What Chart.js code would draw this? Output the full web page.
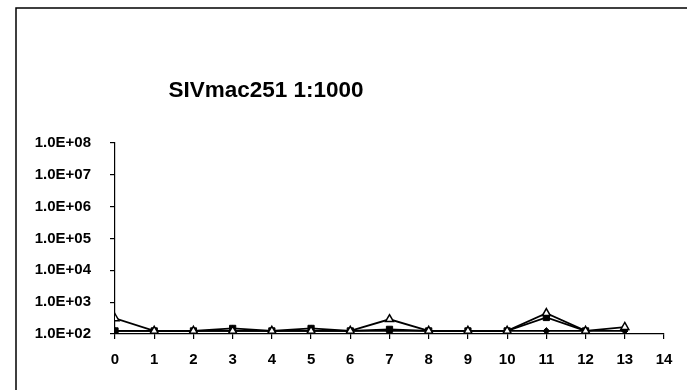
<!DOCTYPE html>
<html>
<head>
<meta charset="utf-8">
<script src="https://cdn.jsdelivr.net/npm/chart.js@4/dist/chart.umd.min.js"></script>
<style>
  html, body { margin: 0; padding: 0; background: #ffffff; }
  #wrap { width: 687px; height: 390px; }
</style>
</head>
<body>
<div id="wrap"><canvas id="chart" width="687" height="390"></canvas></div>
<script>
// Chart title
const titleText = 'SIVmac251 1:1000';

// Days on the x axis
const days = [0, 1, 2, 3, 4, 5, 6, 7, 8, 9, 10, 11, 12, 13];

// Series values (copies/ml)
const triangleValues = [310, 125, 125, 125, 125, 125, 125, 290, 125, 125, 125, 450, 125, 165];
const squareValues   = [125, 125, 125, 150, 125, 150, 125, 140, 125, 125, 125, 330, 125];
const diamondValues  = [125, 125, 125, 125, 125, 125, 125, 125, 125, 125, 125, 125, 125, 125];

// Axis ticks
const xTickValues = [0, 1, 2, 3, 4, 5, 6, 7, 8, 9, 10, 11, 12, 13, 14];
const yTickValues = [1e2, 1e3, 1e4, 1e5, 1e6, 1e7, 1e8];

const FONT = '"Liberation Sans", Arial, sans-serif';

function toPoints(values) {
  return values.map((v, i) => ({ x: days[i], y: v }));
}

function sci(v) {
  const exp = Math.round(Math.log10(v));
  const mant = v / Math.pow(10, exp);
  return mant.toFixed(1) + 'E+' + String(exp).padStart(2, '0');
}

// Outer frame and title, drawn on the canvas
const framePlugin = {
  id: 'frame',
  beforeDraw(chart) {
    const ctx = chart.ctx;
    ctx.save();
    ctx.fillStyle = '#ffffff';
    ctx.fillRect(0, 0, chart.width, chart.height);
    ctx.strokeStyle = '#000000';
    ctx.lineWidth = 1.5;
    ctx.beginPath();
    ctx.moveTo(16, chart.height);
    ctx.lineTo(16, 8);
    ctx.lineTo(chart.width, 8);
    ctx.stroke();
    ctx.restore();
  },
  afterDraw(chart) {
    const ctx = chart.ctx;
    ctx.save();
    ctx.fillStyle = '#000000';
    ctx.font = 'bold 22.5px ' + FONT;
    ctx.textAlign = 'center';
    ctx.textBaseline = 'alphabetic';
    ctx.fillText(titleText, 266, 96.5);
    ctx.restore();
  }
};

const baseLine = { borderColor: '#000000', borderWidth: 1.8, tension: 0, fill: false };

new Chart(document.getElementById('chart'), {
  type: 'line',
  data: {
    datasets: [
      Object.assign({}, baseLine, {
        label: 'triangle',
        data: toPoints(triangleValues),
        pointStyle: 'triangle',
        pointRadius: 4.6,
        pointBackgroundColor: '#ffffff',
        pointBorderColor: '#000000',
        pointBorderWidth: 1.5
      }),
      Object.assign({}, baseLine, {
        label: 'square',
        data: toPoints(squareValues),
        pointStyle: 'rect',
        pointRadius: 4.4,
        pointBackgroundColor: '#000000',
        pointBorderColor: '#000000',
        pointBorderWidth: 1
      }),
      Object.assign({}, baseLine, {
        label: 'diamond',
        data: toPoints(diamondValues),
        pointStyle: 'rectRot',
        pointRadius: 3.3,
        pointBackgroundColor: '#000000',
        pointBorderColor: '#000000',
        pointBorderWidth: 1
      })
    ]
  },
  options: {
    responsive: false,
    animation: false,
    devicePixelRatio: 1,
    layout: { padding: { left: 0, top: 143, right: 23, bottom: 0 } },
    plugins: {
      legend: { display: false },
      title: { display: false },
      tooltip: { enabled: false }
    },
    scales: {
      x: {
        type: 'linear',
        min: 0,
        max: 14,
        afterBuildTicks(scale) { scale.ticks = xTickValues.map(v => ({ value: v })); },
        afterFit(scale) { scale.height = 56; },
        grid: { drawOnChartArea: false, drawTicks: true, tickLength: 5, color: '#000000', lineWidth: 1.2 },
        border: { display: true, color: '#000000', width: 1.2 },
        ticks: {
          color: '#000000',
          font: { family: FONT, size: 15, weight: 'bold' },
          padding: 12,
          maxRotation: 0,
          autoSkip: false
        }
      },
      y: {
        type: 'logarithmic',
        min: 1e2,
        max: 1e8,
        afterBuildTicks(scale) { scale.ticks = yTickValues.map(v => ({ value: v })); },
        afterFit(scale) { scale.width = 115; },
        grid: { drawOnChartArea: false, drawTicks: true, tickLength: 5, color: '#000000', lineWidth: 1.2 },
        border: { display: true, color: '#000000', width: 1.2 },
        ticks: {
          color: '#000000',
          font: { family: FONT, size: 15, weight: 'bold' },
          padding: 19,
          autoSkip: false,
          callback: (v) => sci(v)
        }
      }
    }
  },
  plugins: [framePlugin]
});
</script>
</body>
</html>
